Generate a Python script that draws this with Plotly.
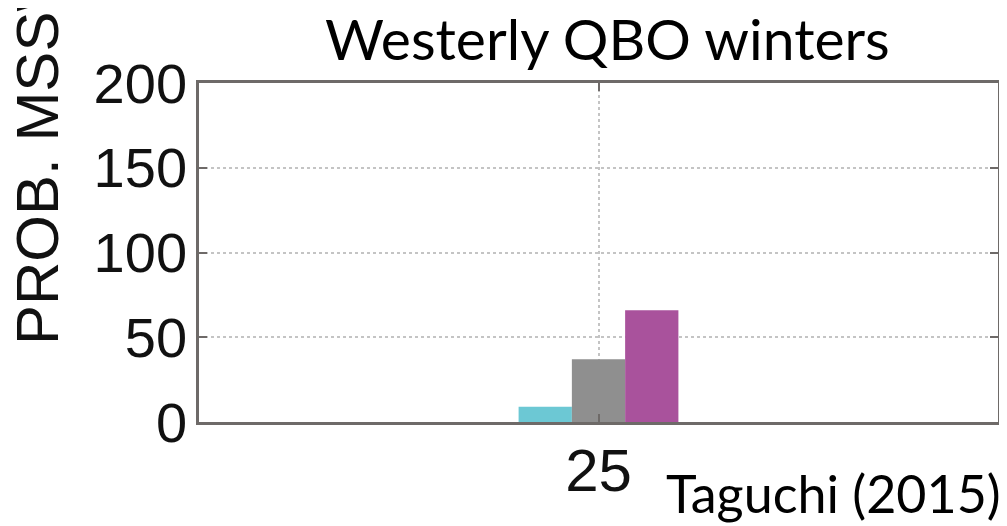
import plotly.graph_objects as go

# Data
categories = [25]
series_names = ["A", "B", "C"]
series_values = [[9], [37], [66]]
series_colors = ["#6cc8d4", "#8f8f8f", "#a9529c"]
y_ticks = [0, 50, 100, 150, 200]
x_ticks = [25]

fig = go.Figure()
w = 1.0 / 3
for i, (name, vals, col) in enumerate(zip(series_names, series_values, series_colors)):
    fig.add_trace(go.Bar(
        x=categories, y=vals, name=name,
        width=w, offset=-0.5 + i * w,
        marker=dict(color=col, line=dict(width=0)),
    ))

# page body has an 8px margin, so the figure is drawn 8px in from the corner
OFF = 8
W, H = 1007 - OFF, 526 - OFF
L = 199 - OFF
T = 83 - OFF
R = W - (998 - OFF)
B = H - (422 - OFF)
pw = W - L - R
ph = H - T - B

def px(xs):  # screenshot x -> paper
    return (xs - OFF - L) / pw

def py(ys):  # screenshot y -> paper
    return (H - B - (ys - OFF)) / ph

axis_col = "#6e6a68"
fig.update_layout(
    width=W, height=H,
    margin=dict(l=L, r=R, t=T, b=B, pad=0),
    paper_bgcolor="white", plot_bgcolor="white",
    showlegend=False, barmode="overlay",
    font=dict(family="Liberation Sans, Arial, sans-serif", color="#111111"),
    xaxis=dict(
        range=[22.5, 27.5], tickvals=x_ticks, ticktext=[str(v) for v in x_ticks],
        showline=True, mirror="ticks", linecolor=axis_col, linewidth=2.5,
        ticks="inside", ticklen=8, tickcolor=axis_col, tickwidth=1.5,
        showgrid=True, gridcolor="#c4c4c4", griddash="dot", gridwidth=1.5,
        zeroline=False, tickfont=dict(size=60, family="Liberation Sans, Arial"),
        ticklabelstandoff=-6, automargin=False,
    ),
    yaxis=dict(
        range=[0, 200], tickvals=y_ticks,
        showline=True, mirror="ticks", linecolor=axis_col, linewidth=2.5,
        ticks="inside", ticklen=8, tickcolor=axis_col, tickwidth=1.5,
        showgrid=True, gridcolor="#c4c4c4", griddash="dot", gridwidth=1.5,
        zeroline=False, tickfont=dict(size=56, family="Liberation Sans, Arial"),
        ticklabelstandoff=-2, automargin=False,
    ),
)

fig.add_annotation(
    text="PROB. MSSW", xref="paper", yref="paper",
    x=px(37), y=py(347), xanchor="center", yanchor="bottom",
    textangle=-90, showarrow=False,
    font=dict(size=60, family="Liberation Sans, Arial", color="#111111"),
)
fig.add_annotation(
    text="Westerly QBO winters", xref="paper", yref="paper",
    x=px(607), y=py(74), xanchor="center", yanchor="bottom",
    showarrow=False,
    font=dict(size=57, family="Lato, Open Sans, sans-serif", color="#000000"),
)
fig.add_annotation(
    text="Taguchi (2015)", xref="paper", yref="paper",
    x=px(1003), y=py(526), xanchor="right", yanchor="bottom",
    showarrow=False,
    font=dict(size=52, family="Lato, Open Sans, sans-serif", color="#000000"),
)

fig.write_html("out.html")
